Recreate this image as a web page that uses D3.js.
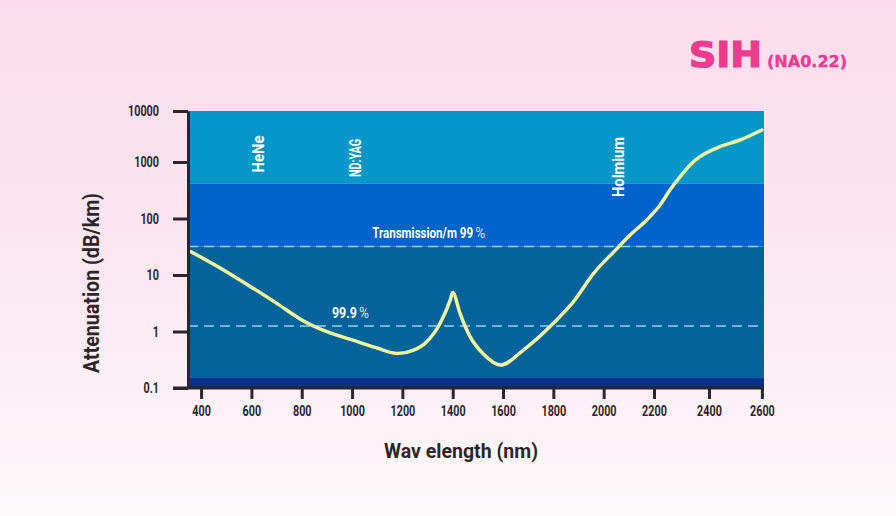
<!DOCTYPE html>
<html>
<head>
<meta charset="utf-8">
<script src="https://cdn.jsdelivr.net/npm/d3@7/dist/d3.min.js"></script>
<style>
  html, body { margin: 0; padding: 0; background: #fdf3f8; }
  svg { display: block; }
  .narrow { font-family: Roboto, 'Liberation Sans', sans-serif; font-weight: bold; }
</style>
</head>
<body>
<svg id="chart"></svg>
<script>
// Attenuation curve (nm, dB/km)
const wavelength = [360, 489, 605, 701, 800, 900, 1000, 1100, 1180, 1245, 1297, 1350, 1390, 1400,
                    1429, 1469, 1522, 1590, 1681, 1800, 1880, 1960, 2045, 2105, 2171, 2222, 2258,
                    2295, 2331, 2367, 2441, 2517, 2600];
const attenuation = [25.8, 12.3, 5.9, 3.15, 1.6, 0.99, 0.71, 0.51, 0.41, 0.47, 0.66, 1.4, 3.6, 4.9,
                     2.1, 0.81, 0.40, 0.255, 0.47, 1.4, 3.37, 10.7, 27, 51, 94, 173, 319,
                     550, 885, 1270, 1995, 2700, 4240];

const xTicks = [400, 600, 800, 1000, 1200, 1400, 1600, 1800, 2000, 2200, 2400, 2600];
const yTicks = [0.1, 1, 10, 100, 1000, 10000];
const yTickLabels = ['0.1', '1', '10', '100', '1000', '10000'];

// background bands (dB/km)
const bandEdges = [0.1, 0.15, 32, 410, 10000];
const bandColors = ['#0b2f8e', '#04639a', '#0062cb', '#0597c8'];

// dashed transmission levels (dB/km) and their labels
const dashLevels = [32, 1.25];
const dashLabels = ['Transmission/m 99', '99.9'];
const dashLabelNm = [1080, 920];

// laser lines (nm)
const laserNames = ['HeNe', 'ND:YAG', 'Holmium'];
const laserNm = [630, 1015, 2062];

const W = 896, H = 516;
const svg = d3.select('#chart').attr('width', W).attr('height', H);

const grad = svg.append('defs').append('linearGradient')
    .attr('id', 'bg').attr('x1', 0).attr('y1', 0).attr('x2', 0).attr('y2', 1);
grad.append('stop').attr('offset', '0%').attr('stop-color', '#fcdcec');
grad.append('stop').attr('offset', '55%').attr('stop-color', '#fbe9f1');
grad.append('stop').attr('offset', '100%').attr('stop-color', '#fdf9fb');
svg.append('rect').attr('width', W).attr('height', H).attr('fill', 'url(#bg)');

// the axes in the picture are not evenly spaced, so both scales are piecewise
const x = d3.scaleLinear()
    .domain([348, 2200, 2400, 2608])
    .range([188, 654, 709, 764]);
const y = d3.scaleLog()
    .domain([0.1, 1000, 10000])
    .range([388, 162, 111]);

const [x0, x1] = [x(348), x(2608)];

// squeeze a text to a width (the picture uses a condensed face)
const squeeze = (sel, w) => sel.each(function() {
    const target = w !== undefined ? w : this.getComputedTextLength() * 0.72;
    d3.select(this).attr('textLength', target).attr('lengthAdjust', 'spacingAndGlyphs');
});

// bands
svg.append('g').selectAll('rect')
    .data(bandColors)
    .enter()
    .append('rect')
    .attr('x', x0)
    .attr('width', x1 - x0)
    .attr('y', (d, i) => y(bandEdges[i + 1]))
    .attr('height', (d, i) => y(bandEdges[i]) - y(bandEdges[i + 1]))
    .attr('fill', d => d);

// dashed levels
svg.append('g').selectAll('line')
    .data(dashLevels)
    .enter()
    .append('line')
    .attr('x1', x0).attr('x2', x1)
    .attr('y1', d => y(d)).attr('y2', d => y(d))
    .attr('stroke', '#9fcdec')
    .attr('stroke-width', 1.6)
    .attr('stroke-dasharray', '10 6');

// level labels: scaled horizontally with a transform, the lighter '%' set just after
const levelWidths = [101, 25];
const lvlG = svg.append('g');
dashLabels.forEach((label, i) => {
    const tx = x(dashLabelNm[i]);
    const ty = y(dashLevels[i]) - 8;
    const t = lvlG.append('text')
        .attr('class', 'narrow')
        .attr('fill', '#ffffff')
        .attr('font-size', 15)
        .text(label);
    const sx = levelWidths[i] / t.node().getComputedTextLength();
    t.attr('transform', `translate(${tx}, ${ty}) scale(${sx}, 1)`);
    const p = lvlG.append('text')
        .attr('fill', '#cfe6f7')
        .attr('font-family', 'Roboto, sans-serif')
        .attr('font-size', 15)
        .text('%');
    const px = 10 / p.node().getComputedTextLength();
    p.attr('transform', `translate(${tx + levelWidths[i] + 2}, ${ty}) scale(${px}, 1)`);
});

// laser labels
svg.append('g').selectAll('text')
    .data(laserNames)
    .enter()
    .append('text')
    .attr('class', 'narrow')
    .attr('transform', (d, i) => `translate(${x(laserNm[i]) + 5}, ${[154, 158, 167][i]}) rotate(-90)`)
    .attr('text-anchor', 'middle')
    .attr('fill', '#ffffff')
    .attr('font-size', (d, i) => [17, 16, 17][i])
    .text(d => d)
    .each(function(d, i) { squeeze(d3.select(this), [37, 38, 60][i]); });

// curve
const line = d3.line()
    .x(d => x(d[0]))
    .y(d => y(d[1]))
    .curve(d3.curveMonotoneX);

svg.append('path')
    .datum(wavelength.map((w, i) => [w, attenuation[i]]))
    .attr('d', line)
    .attr('fill', 'none')
    .attr('stroke', '#eef59c')
    .attr('stroke-width', 3.5)
    .attr('stroke-linecap', 'round');

// axes
const axisColor = '#2b2729';

const gx = svg.append('g')
    .attr('transform', `translate(0, ${y(0.1)})`)
    .call(d3.axisBottom(x).tickValues(xTicks).tickFormat(d3.format('d'))
        .tickSize(11).tickSizeOuter(0).tickPadding(6));

const gy = svg.append('g')
    .attr('transform', `translate(${x0}, 0)`)
    .call(d3.axisLeft(y).tickValues(yTicks).tickFormat((d, i) => yTickLabels[i])
        .tickSize(15).tickSizeOuter(0).tickPadding(14));

[gx, gy].forEach(g => {
    g.select('.domain').attr('stroke', axisColor).attr('stroke-width', 3);
    g.selectAll('.tick line').attr('stroke', axisColor).attr('stroke-width', 3);
    g.selectAll('.tick text')
        .attr('class', 'narrow')
        .attr('fill', axisColor)
        .attr('font-size', 15)
        .call(squeeze);
});
gx.select('.domain').attr('d', `M${x0 - 15},0H${x1}`);

// axis titles
svg.append('text')
    .attr('class', 'narrow')
    .attr('x', 461)
    .attr('y', 458)
    .attr('text-anchor', 'middle')
    .attr('fill', axisColor)
    .attr('font-size', 21)
    .text('Wav elength (nm)')
    .call(squeeze, 154);

svg.append('text')
    .attr('class', 'narrow')
    .attr('transform', 'translate(99, 283) rotate(-90)')
    .attr('text-anchor', 'middle')
    .attr('fill', axisColor)
    .attr('font-size', 22)
    .text('Attenuation (dB/km)')
    .call(squeeze, 180);

// title
const titleG = svg.append('g')
    .attr('fill', '#ee3a8f')
    .attr('stroke', '#ee3a8f')
    .attr('font-family', 'DejaVu Sans, sans-serif')
    .attr('font-weight', 'bold');
titleG.append('text')
    .attr('x', 689).attr('y', 67)
    .attr('font-size', 35)
    .attr('stroke-width', 1.2)
    .text('SIH')
    .call(squeeze, 73);
titleG.append('text')
    .attr('x', 767).attr('y', 67)
    .attr('font-size', 16)
    .attr('stroke-width', 0.3)
    .text('(NA0.22)')
    .call(squeeze, 80);
</script>
</body>
</html>
